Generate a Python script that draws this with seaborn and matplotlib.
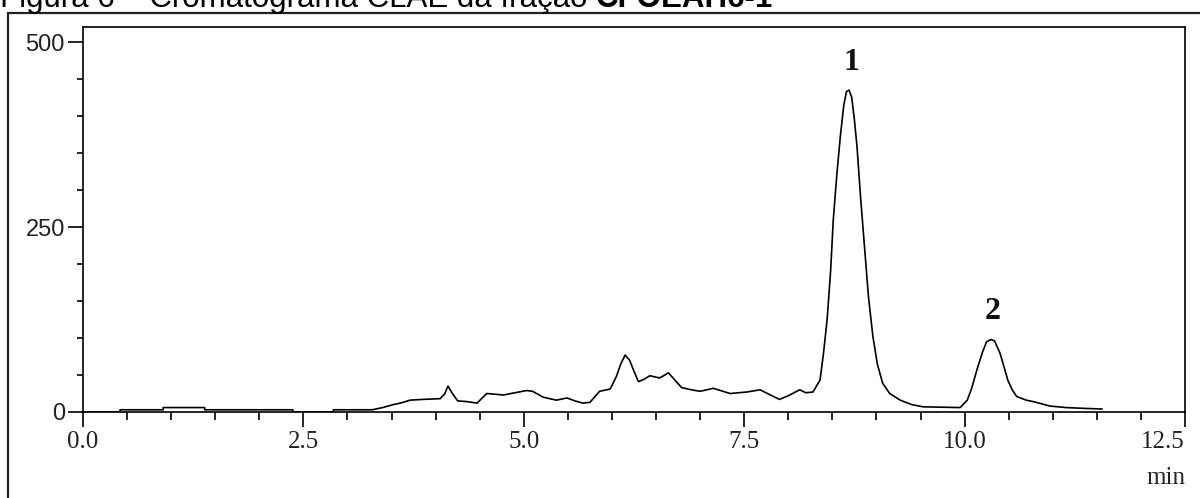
import numpy as np
import pandas as pd
import matplotlib
matplotlib.use("Agg")
import matplotlib.pyplot as plt
from matplotlib.lines import Line2D
from matplotlib.ticker import MultipleLocator, FixedLocator
import seaborn as sns

# ---- data ----
time_min = [0.00, 0.42, 0.42, 0.91, 0.91, 1.38, 1.38, 2.38, 2.38, 2.84, 2.84, 3.28,
            3.40, 3.52, 3.60, 3.71, 3.85, 4.05, 4.10, 4.14, 4.19, 4.25, 4.36, 4.47,
            4.52, 4.58, 4.77, 4.90, 5.03, 5.10, 5.22, 5.37, 5.49, 5.58, 5.67, 5.75,
            5.86, 5.98, 6.05, 6.10, 6.15, 6.20, 6.25, 6.30, 6.36, 6.43, 6.54, 6.60,
            6.64, 6.70, 6.79, 6.90, 7.00, 7.15, 7.34, 7.53, 7.68, 7.78, 7.90, 8.00,
            8.13, 8.20, 8.28, 8.36, 8.40, 8.44, 8.48, 8.51, 8.55, 8.59, 8.63, 8.66,
            8.69, 8.72, 8.75, 8.78, 8.82, 8.87, 8.91, 8.96, 9.01, 9.07, 9.15, 9.27,
            9.40, 9.53, 9.95, 10.03, 10.08, 10.14, 10.20, 10.25, 10.30, 10.34, 10.40,
            10.45, 10.49, 10.54, 10.59, 10.70, 10.78, 10.97, 11.15, 11.34, 11.56]
signal = [0, 0, 3, 3, 6, 6, 3, 3, 0, 0, 3, 3,
          6, 10, 12, 16, 17, 18, 24, 35, 25, 15, 14, 12,
          18, 25, 23, 26, 29, 28, 20, 16, 19, 15, 12, 13,
          28, 31, 48, 65, 77, 70, 55, 41, 44, 49, 46, 50,
          53, 45, 33, 30, 28, 32, 25, 27, 30, 24, 17, 22,
          30, 26, 27, 43, 80, 124, 190, 259, 320, 372, 415, 433,
          435, 425, 395, 358, 290, 215, 155, 102, 65, 39, 25, 16,
          10, 7, 6, 16, 32, 57, 80, 95, 98, 96, 80,
          60, 43, 30, 21, 16, 14, 8, 6, 5, 4]

peak_labels = ["1", "2"]
peak_label_t = [8.72, 10.32]
peak_label_v = [473, 136]

x_major = [0.0, 2.5, 5.0, 7.5, 10.0, 12.5]
x_tick_labels = ["0.0", "2.5", "5.0", "7.5", "10.0", "12.5"]
y_major = [0, 250, 500]
y_tick_labels = ["0", "250", "500"]

title_normal = "Figura 6 – Cromatograma CLAE da fração "
title_bold = "CFOEAH6-1"

df = pd.DataFrame({"t": time_min, "v": signal})

sns.set_style("ticks")
plt.rcParams["font.family"] = ["Liberation Sans", "DejaVu Sans"]

W, H = 1200, 498
fig = plt.figure(figsize=(W / 100, H / 100), dpi=100)
ax = fig.add_axes([83 / W, 1 - 412 / H, (1185 - 83) / W, (412 - 26.5) / H])

sns.lineplot(data=df, x="t", y="v", ax=ax, color="black", linewidth=1.2,
             estimator=None, sort=False)

ax.set_xlim(0, 12.5)
ax.set_ylim(0, 521)
ax.set_xlabel("")
ax.set_ylabel("")

ax.xaxis.set_major_locator(FixedLocator(x_major))
ax.set_xticklabels(x_tick_labels, fontfamily="Liberation Serif", fontsize=18, color="#222222")
ax.get_xticklabels()[-1].set_horizontalalignment("right")
ax.xaxis.set_minor_locator(MultipleLocator(0.5))
ax.yaxis.set_major_locator(FixedLocator(y_major))
ax.set_yticklabels(y_tick_labels, fontfamily="Liberation Sans", fontsize=17, color="#222222")
ax.yaxis.set_minor_locator(MultipleLocator(50))

ax.tick_params(axis="x", which="major", direction="out", length=11, width=1.2, pad=3, color="black")
ax.tick_params(axis="x", which="minor", direction="out", length=6, width=1.2, color="black")
ax.tick_params(axis="y", which="major", direction="out", length=11, width=1.2, pad=2, color="black")
ax.tick_params(axis="y", which="minor", direction="out", length=4, width=1.2, color="black")

for s in ax.spines.values():
    s.set_visible(True)
    s.set_linewidth(1.2)
    s.set_color("black")

for lab, tt, vv in zip(peak_labels, peak_label_t, peak_label_v):
    ax.text(tt, vv, lab, ha="center", va="center", fontfamily="Liberation Serif",
            fontweight="bold", fontsize=23, color="#111111")

fig.text(1185 / W, 1 - 478 / H, "min", ha="right", va="center",
         fontfamily="Liberation Serif", fontsize=18, color="#222222")

# outer frame lines
fig.add_artist(Line2D([8 / W, 1.0], [1 - 13 / H, 1 - 13 / H], color="#222222", linewidth=1.6))
fig.add_artist(Line2D([8 / W, 8 / W], [1 - 13 / H, 0.0], color="#222222", linewidth=1.6))

# title (top clipped as in the reference)
t1 = fig.text(0.0, 1 - 7 / H, title_normal, ha="left", va="baseline",
              fontfamily="Liberation Sans", fontsize=22.5, color="black")
fig.canvas.draw()
bb = t1.get_window_extent(renderer=fig.canvas.get_renderer())
fig.text(bb.x1 / W, 1 - 7 / H, title_bold, ha="left", va="baseline",
         fontfamily="Liberation Sans", fontweight="bold", fontsize=22.5, color="black")

fig.savefig("out.png", dpi=100)
